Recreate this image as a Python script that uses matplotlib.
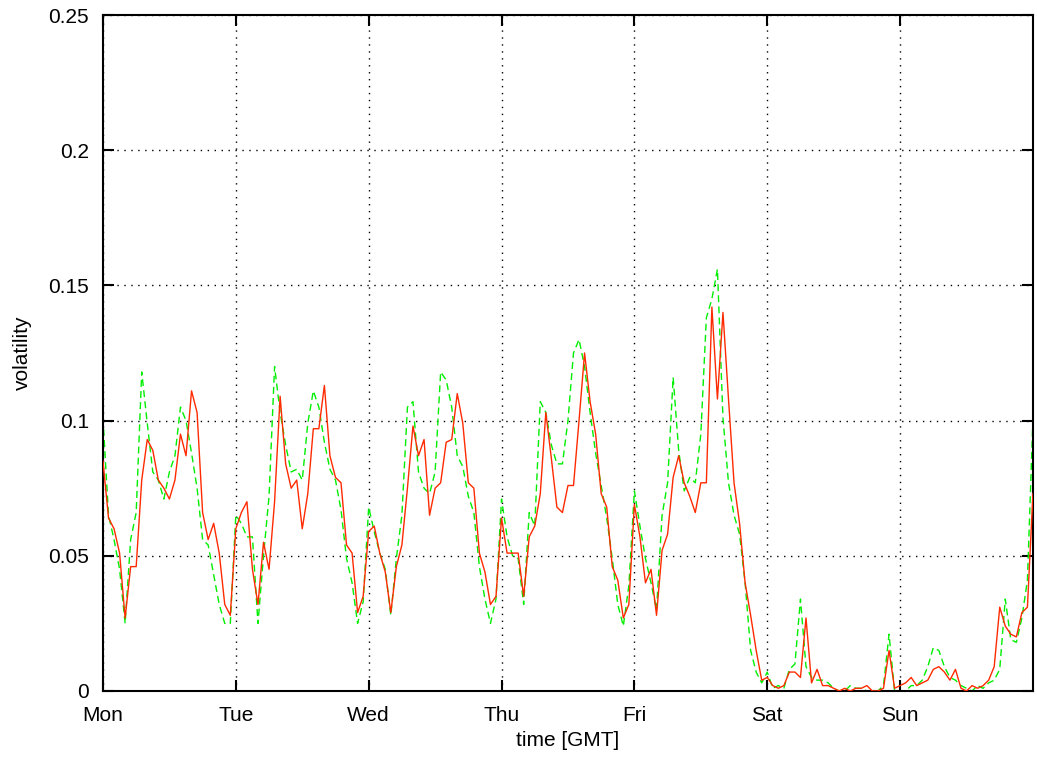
import numpy as np
import matplotlib
matplotlib.use("Agg")
import matplotlib.pyplot as plt

# hourly volatility readings, one list per day (Mon 00:00 .. next Mon 00:00)
red_mon = [0.085, 0.064, 0.060, 0.051, 0.027, 0.046, 0.046, 0.078, 0.093, 0.089, 0.078, 0.075,
           0.071, 0.078, 0.095, 0.087, 0.111, 0.103, 0.066, 0.056, 0.062, 0.051, 0.032, 0.028]
red_tue = [0.060, 0.066, 0.070, 0.045, 0.032, 0.055, 0.045, 0.070, 0.109, 0.084, 0.075, 0.078,
           0.060, 0.073, 0.097, 0.097, 0.113, 0.087, 0.079, 0.077, 0.054, 0.051, 0.029, 0.035]
red_wed = [0.059, 0.061, 0.051, 0.044, 0.029, 0.046, 0.054, 0.075, 0.098, 0.087, 0.093, 0.065,
           0.075, 0.077, 0.092, 0.093, 0.110, 0.099, 0.077, 0.075, 0.051, 0.044, 0.032, 0.035]
red_thu = [0.064, 0.051, 0.051, 0.051, 0.035, 0.057, 0.061, 0.073, 0.103, 0.086, 0.068, 0.066,
           0.076, 0.076, 0.100, 0.125, 0.107, 0.095, 0.073, 0.068, 0.046, 0.041, 0.027, 0.032]
red_fri = [0.069, 0.057, 0.040, 0.045, 0.028, 0.052, 0.058, 0.079, 0.087, 0.077, 0.072, 0.066,
           0.077, 0.077, 0.142, 0.108, 0.140, 0.108, 0.077, 0.062, 0.040, 0.028, 0.015, 0.004]
red_sat = [0.005, 0.002, 0.001, 0.002, 0.007, 0.007, 0.005, 0.027, 0.003, 0.008, 0.002, 0.002,
           0.001, 0.000, 0.001, 0.000, 0.001, 0.001, 0.002, 0.000, 0.000, 0.001, 0.015, 0.001]
red_sun = [0.002, 0.003, 0.005, 0.002, 0.003, 0.004, 0.008, 0.009, 0.007, 0.004, 0.008, 0.001,
           0.000, 0.002, 0.001, 0.002, 0.004, 0.009, 0.031, 0.024, 0.021, 0.020, 0.029, 0.031, 0.073]

green_mon = [0.101, 0.065, 0.056, 0.045, 0.025, 0.056, 0.066, 0.118, 0.099, 0.081, 0.078, 0.071,
             0.081, 0.087, 0.105, 0.100, 0.088, 0.075, 0.056, 0.054, 0.043, 0.032, 0.025, 0.025]
green_tue = [0.065, 0.062, 0.057, 0.057, 0.025, 0.050, 0.072, 0.120, 0.103, 0.091, 0.081, 0.082,
             0.078, 0.099, 0.111, 0.105, 0.092, 0.082, 0.078, 0.067, 0.049, 0.040, 0.025, 0.033]
green_wed = [0.068, 0.059, 0.051, 0.045, 0.028, 0.049, 0.065, 0.105, 0.107, 0.081, 0.075, 0.073,
             0.081, 0.118, 0.115, 0.105, 0.087, 0.083, 0.072, 0.066, 0.046, 0.034, 0.025, 0.034]
green_thu = [0.071, 0.057, 0.050, 0.049, 0.032, 0.066, 0.061, 0.107, 0.103, 0.091, 0.084, 0.084,
             0.100, 0.125, 0.130, 0.120, 0.103, 0.088, 0.076, 0.064, 0.049, 0.032, 0.024, 0.039]
green_fri = [0.074, 0.061, 0.049, 0.040, 0.030, 0.065, 0.077, 0.116, 0.089, 0.074, 0.079, 0.077,
             0.095, 0.138, 0.145, 0.156, 0.101, 0.077, 0.065, 0.058, 0.040, 0.015, 0.007, 0.003]
green_sat = [0.007, 0.001, 0.002, 0.001, 0.008, 0.010, 0.034, 0.009, 0.005, 0.004, 0.004, 0.003,
             0.001, 0.000, 0.000, 0.002, 0.001, 0.001, 0.000, 0.000, 0.000, 0.002, 0.021, 0.000]
green_sun = [0.000, 0.000, 0.002, 0.002, 0.004, 0.009, 0.016, 0.015, 0.009, 0.005, 0.004, 0.002,
             0.001, 0.000, 0.002, 0.001, 0.003, 0.004, 0.008, 0.034, 0.019, 0.018, 0.027, 0.041, 0.101]

day_labels = ["Mon", "Tue", "Wed", "Thu", "Fri", "Sat", "Sun"]

red = red_mon + red_tue + red_wed + red_thu + red_fri + red_sat + red_sun
green = green_mon + green_tue + green_wed + green_thu + green_fri + green_sat + green_sun
t = np.arange(len(red)) / 24.0

plt.rcParams["font.family"] = ["Liberation Sans", "DejaVu Sans"]

fig = plt.figure(figsize=(10.37, 7.58), dpi=100)
ax = fig.add_axes([0.0993, 0.0884, 0.8968, 0.8918])

ax.plot(t, red, color="#ff2a00", lw=1.0, zorder=3)
ax.plot(t, green, color="#00ee00", lw=1.0, ls=(0, (5, 3)), zorder=2)

ax.set_xlim(0, 7)
ax.set_ylim(0, 0.25)
ax.set_xticks(range(7))
ax.set_xticklabels(day_labels)
ax.set_yticks([0, 0.05, 0.1, 0.15, 0.2, 0.25])
ax.set_yticklabels(["0", "0.05", "0.1", "0.15", "0.2", "0.25"])

ax.grid(True, color="black", ls=(0, (1, 4)), lw=1.0)
ax.tick_params(direction="in", length=8, width=1.5, top=True, right=True,
               labelsize=15, colors="black")
ax.tick_params(axis="x", pad=11)
ax.tick_params(axis="y", pad=10)
for s in ax.spines.values():
    s.set_linewidth(1.5)

ax.set_xlabel("time [GMT]", fontsize=15, labelpad=4)
ax.set_ylabel("volatility", fontsize=15, labelpad=12)

fig.savefig("out.png", dpi=100)
plt.close(fig)
